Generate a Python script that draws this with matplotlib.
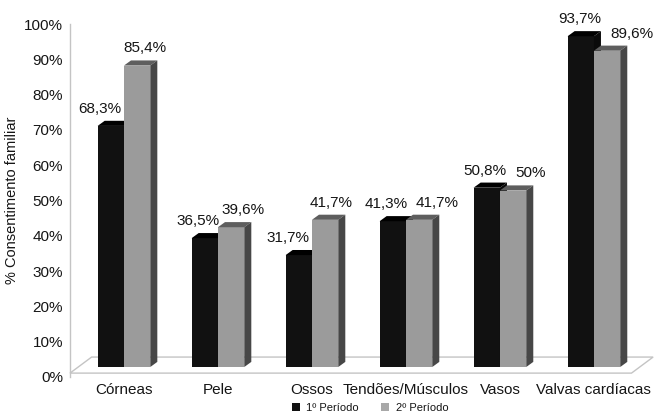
import matplotlib
matplotlib.use('Agg')
import matplotlib.pyplot as plt
from matplotlib.patches import Polygon, Patch

# data
categories = ['Córneas', 'Pele', 'Ossos', 'Tendões/Músculos', 'Vasos', 'Valvas cardíacas']
periodo1 = [68.3, 36.5, 31.7, 41.3, 50.8, 93.7]
periodo2 = [85.4, 39.6, 41.7, 41.7, 50.0, 89.6]
labels1 = ['68,3%', '36,5%', '31,7%', '41,3%', '50,8%', '93,7%']
labels2 = ['85,4%', '39,6%', '41,7%', '41,7%', '50%', '89,6%']
series_names = ['1º Período', '2º Período']

# style / layout
plt.rcParams['font.family'] = ['Liberation Sans', 'DejaVu Sans']
text_color = '#151515'
bar_w = 0.28          # width of one bar, in category units
depth_dx = 0.075      # 3d depth of a bar (x, category units)
depth_dy = 1.45       # 3d depth of a bar (y, %)
floor_y0 = 1.1
floor_dx = 0.23
floor_dy = 4.55
base = floor_y0 + floor_dy * 0.38
lbl_dx1 = [-24, -20, -24, -20, -15, -14]   # label x offsets (px)
lbl_dx2 = [21, 25, 19, 31, 31, 38]
lbl_dy = 12

colors = {
    0: ('#111111', '#000000', '#0a0a0a'),   # front, top, side
    1: ('#9b9b9b', '#5e5e5e', '#474747'),
}

fig = plt.figure(figsize=(6.55, 4.2), dpi=100)
ax = fig.add_axes([70 / 655, 43 / 420, 585 / 655, 353 / 420])
ax.set_xlim(-0.574, 5.65)
ax.set_ylim(0, 100)

# floor
x_left = -0.574
x_right = 5.40
floor = Polygon([(x_left, floor_y0), (x_right, floor_y0),
                 (x_right + floor_dx, floor_y0 + floor_dy),
                 (x_left + floor_dx, floor_y0 + floor_dy)],
                closed=True, facecolor='white', edgecolor='#c4c4c4',
                linewidth=1, clip_on=False, zorder=1)
ax.add_patch(floor)


def draw_bar(x0, value, k):
    front, top, side = colors[k]
    x1 = x0 + bar_w
    y1 = base + value
    ax.bar(x0, value, bar_w, bottom=base, align='edge', color=front,
           edgecolor='none', zorder=2)
    ax.add_patch(Polygon([(x0, y1), (x0 + depth_dx, y1 + depth_dy),
                          (x1 + depth_dx, y1 + depth_dy), (x1, y1)],
                         closed=True, facecolor=top, edgecolor='none', zorder=2))
    ax.add_patch(Polygon([(x1, base), (x1, y1), (x1 + depth_dx, y1 + depth_dy),
                          (x1 + depth_dx, base + depth_dy)],
                         closed=True, facecolor=side, edgecolor='none', zorder=2))


for i in range(len(categories)):
    draw_bar(i - bar_w, periodo1[i], 0)
    draw_bar(i, periodo2[i], 1)

for i in range(len(categories)):
    ax.annotate(labels1[i], (i, base + periodo1[i] + depth_dy),
                xytext=(lbl_dx1[i], lbl_dy), textcoords='offset pixels',
                ha='center', va='center', fontsize=11, color=text_color)
    ax.annotate(labels2[i], (i, base + periodo2[i] + depth_dy),
                xytext=(lbl_dx2[i], lbl_dy), textcoords='offset pixels',
                ha='center', va='center', fontsize=11, color=text_color)

# axes
for s in ['top', 'right', 'bottom']:
    ax.spines[s].set_visible(False)
ax.spines['left'].set_color('#c4c4c4')
ax.spines['left'].set_linewidth(1)
ax.set_yticks(range(0, 101, 10))
ax.set_yticklabels([f'{v}%' for v in range(0, 101, 10)])
ax.set_xticks(range(len(categories)))
ax.set_xticklabels(categories)
ax.tick_params(axis='both', length=0, labelsize=11, colors=text_color)
ax.tick_params(axis='y', pad=5)
ax.tick_params(axis='x', pad=4)
ax.set_ylabel('% Consentimento familiar', fontsize=10.5, color=text_color)
ax.yaxis.set_label_coords(-0.087, 0.5)

handles = [Patch(facecolor='#111111', edgecolor='none'),
           Patch(facecolor='#a8a8a8', edgecolor='none')]
fig.legend(handles, series_names, loc='lower center', ncol=2,
           bbox_to_anchor=(0.565, 0.0), frameon=False, fontsize=8,
           borderpad=0.15, handlelength=0.7, handleheight=0.7,
           handletextpad=0.6, columnspacing=2.0, labelcolor=text_color)

fig.savefig('out.png', dpi=100)
